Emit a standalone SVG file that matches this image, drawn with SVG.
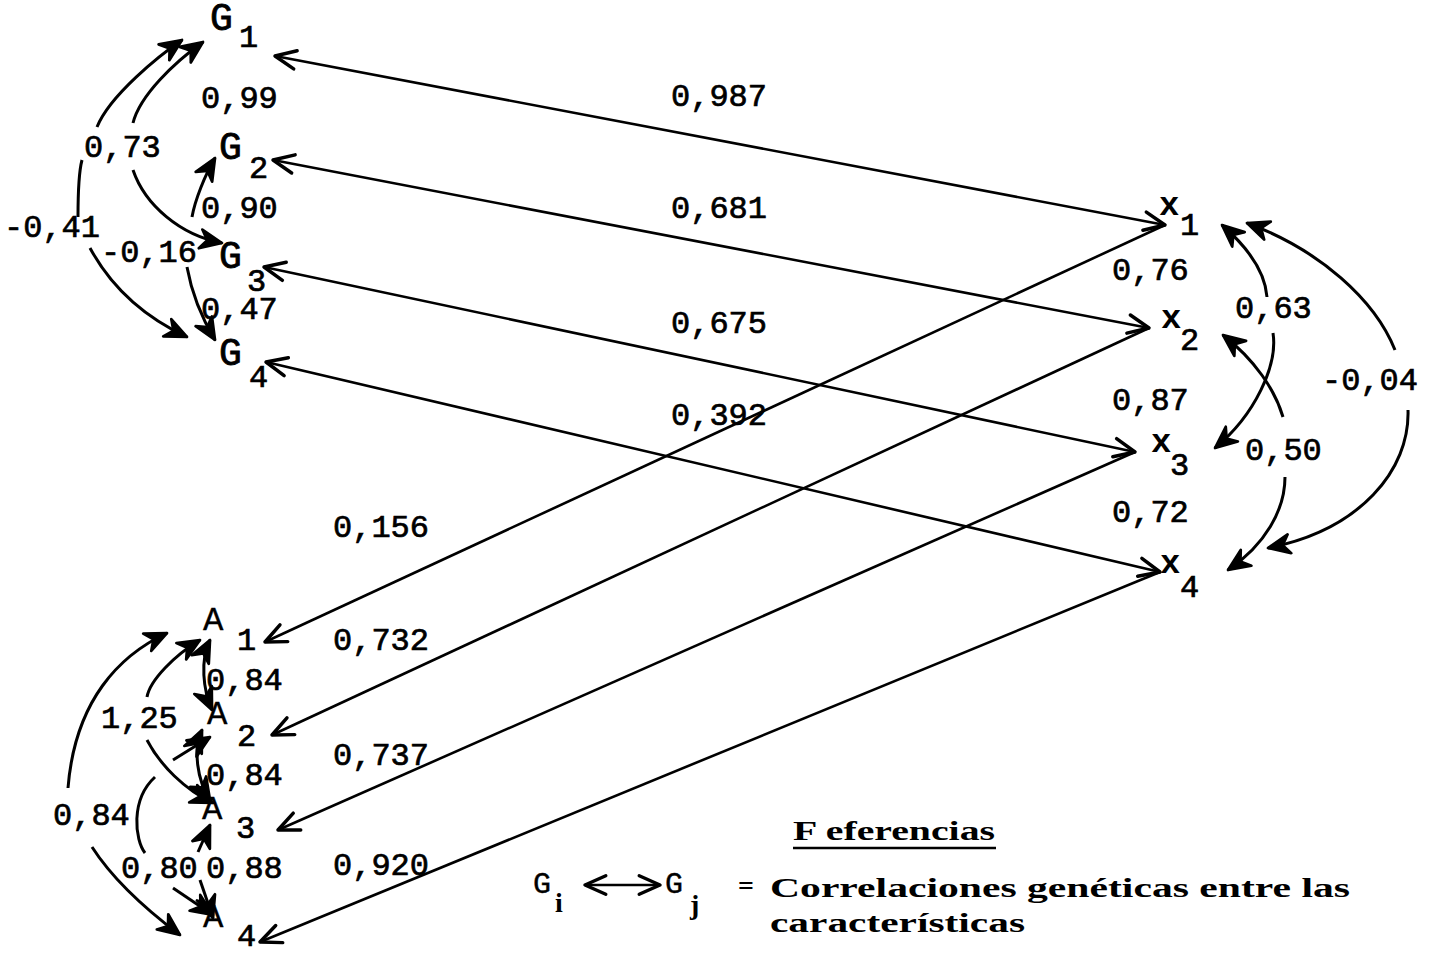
<svg xmlns="http://www.w3.org/2000/svg" width="1436" height="953" viewBox="0 0 1436 953">
<style>
.lbl{font-family:"Liberation Mono",monospace;font-size:32px;fill:#000;stroke:#000;stroke-width:0.7}
.nd{font-family:"Liberation Mono",monospace;font-size:32px;fill:#000;stroke:#000;stroke-width:0.7}
.gg{font-family:"Liberation Mono",monospace;font-size:38px;fill:#000;stroke:#000;stroke-width:0.8}
.ax{font-family:"Liberation Mono",monospace;font-size:34px;fill:#000;stroke:#000;stroke-width:0.3}
.xx{font-family:"Liberation Mono",monospace;font-size:34px;font-weight:bold;fill:#000}
.leg{font-family:"Liberation Serif",serif;font-size:28px;font-weight:bold;fill:#000}
.lg{font-family:"Liberation Mono",monospace;font-size:30px;fill:#000;stroke:#000;stroke-width:0.4}
.ln{fill:none;stroke:#000;stroke-width:2.6}
.arc{fill:none;stroke:#000;stroke-width:3}
</style>
<defs>
<marker id="v" markerUnits="userSpaceOnUse" markerWidth="30" markerHeight="30" refX="0" refY="0" viewBox="-22 -12 26 24" orient="auto-start-reverse">
<path d="M-18,-8 L0,0 L-18,8" fill="none" stroke="#000" stroke-width="3" stroke-linecap="round" stroke-linejoin="round"/>
</marker>
<marker id="f" markerUnits="userSpaceOnUse" markerWidth="30" markerHeight="30" refX="0" refY="0" viewBox="-20 -10 22 20" orient="auto-start-reverse">
<path d="M-16,-7 L0,0 L-16,7 L-11,0 Z" fill="#000" stroke="#000" stroke-width="2" stroke-linejoin="round"/>
</marker>
</defs>
<rect width="1436" height="953" fill="#fff"/>

<g id="connectors">
<line class="ln" x1="275" y1="56" x2="1165" y2="225" marker-start="url(#v)" marker-end="url(#v)"/>
<line class="ln" x1="273" y1="160" x2="1149" y2="328" marker-start="url(#v)" marker-end="url(#v)"/>
<line class="ln" x1="264" y1="267" x2="1135" y2="452" marker-start="url(#v)" marker-end="url(#v)"/>
<line class="ln" x1="266" y1="362" x2="1160" y2="572" marker-start="url(#v)" marker-end="url(#v)"/>
<line class="ln" x1="265" y1="642" x2="1165" y2="225" marker-start="url(#v)"/>
<line class="ln" x1="272" y1="735" x2="1149" y2="328" marker-start="url(#v)"/>
<line class="ln" x1="278" y1="830" x2="1135" y2="452" marker-start="url(#v)"/>
<line class="ln" x1="260" y1="942" x2="1160" y2="572" marker-start="url(#v)"/>

<path class="arc" d="M182,40 C160,55 110,95 97,127" marker-start="url(#f)"/>
<path class="arc" d="M82,160 C78,175 78,200 78,217"/>
<path class="arc" d="M90,248 C110,285 140,315 187,337" marker-end="url(#f)"/>
<path class="arc" d="M203,42 C175,62 140,95 133,123" marker-start="url(#f)"/>
<path class="arc" d="M133,170 C145,205 180,235 222,243" marker-end="url(#f)"/>
<path class="arc" d="M215,158 C205,175 195,200 192,217" marker-start="url(#f)"/>
<path class="arc" d="M187,267 C192,295 203,320 215,340" marker-end="url(#f)"/>

<path class="arc" d="M167,633 C120,655 75,700 68,788" marker-start="url(#f)"/>
<path class="arc" d="M92,847 C110,875 140,905 180,935" marker-end="url(#f)"/>
<path class="arc" d="M200,640 C175,655 150,680 147,697" marker-start="url(#f)"/>
<path class="arc" d="M147,740 C160,765 185,790 213,803" marker-end="url(#f)"/>
<path class="arc" d="M210,737 L173,760" marker-start="url(#f)"/>
<path class="arc" d="M155,777 C130,800 135,840 145,853"/>
<path class="arc" d="M173,888 L213,915" marker-end="url(#f)"/>
<path class="arc" d="M210,640 C200,660 203,690 212,710" marker-start="url(#f)" marker-end="url(#f)"/>
<path class="arc" d="M202,730 C193,750 197,780 210,800" marker-start="url(#f)" marker-end="url(#f)"/>
<path class="arc" d="M198,852 L210,825" marker-end="url(#f)"/>
<path class="arc" d="M200,880 L213,918" marker-end="url(#f)"/>

<path class="arc" d="M1222,225 C1245,245 1265,270 1267,297" marker-start="url(#f)"/>
<path class="arc" d="M1273,333 C1278,365 1255,415 1215,448" marker-end="url(#f)"/>
<path class="arc" d="M1223,335 C1255,360 1275,390 1283,417" marker-start="url(#f)"/>
<path class="arc" d="M1285,477 C1285,510 1265,545 1228,570" marker-end="url(#f)"/>
<path class="arc" d="M1247,223 C1320,250 1375,300 1395,350" marker-start="url(#f)"/>
<path class="arc" d="M1408,410 C1410,470 1360,530 1268,548" marker-end="url(#f)"/>
</g>

<g id="edge-labels">
<text class="lbl" x="201" y="108">0,99</text>
<text class="lbl" x="671" y="106">0,987</text>
<text class="lbl" x="84" y="157">0,73</text>
<text class="lbl" x="201" y="218">0,90</text>
<text class="lbl" x="671" y="218">0,681</text>
<text class="lbl" x="4" y="237">-0,41</text>
<text class="lbl" x="101" y="262">-0,16</text>
<text class="lbl" x="201" y="319">0,47</text>
<text class="lbl" x="671" y="333">0,675</text>
<text class="lbl" x="671" y="425">0,392</text>
<text class="lbl" x="333" y="537">0,156</text>
<text class="lbl" x="333" y="650">0,732</text>
<text class="lbl" x="333" y="765">0,737</text>
<text class="lbl" x="333" y="875">0,920</text>
<text class="lbl" x="1112" y="280">0,76</text>
<text class="lbl" x="1112" y="410">0,87</text>
<text class="lbl" x="1112" y="522">0,72</text>
<text class="lbl" x="1235" y="318">0,63</text>
<text class="lbl" x="1322" y="390">-0,04</text>
<text class="lbl" x="1245" y="460">0,50</text>
<text class="lbl" x="206" y="690">0,84</text>
<text class="lbl" x="101" y="728">1,25</text>
<text class="lbl" x="206" y="785">0,84</text>
<text class="lbl" x="53" y="825">0,84</text>
<text class="lbl" x="121" y="878">0,80</text>
<text class="lbl" x="206" y="878">0,88</text>
</g>

<g id="G1"><text class="gg" x="210" y="30">G</text><text class="nd" x="239" y="47">1</text></g>
<g id="G2"><text class="gg" x="219" y="159">G</text><text class="nd" x="249" y="178">2</text></g>
<g id="G3"><text class="gg" x="219" y="268">G</text><text class="nd" x="247" y="291">3</text></g>
<g id="G4"><text class="gg" x="219" y="365">G</text><text class="nd" x="249" y="387">4</text></g>

<g id="A1"><text class="ax" x="203" y="630">A</text><text class="nd" x="237" y="650">1</text></g>
<g id="A2"><text class="ax" x="207" y="724">A</text><text class="nd" x="237" y="746">2</text></g>
<g id="A3"><text class="ax" x="202" y="819">A</text><text class="nd" x="236" y="838">3</text></g>
<g id="A4"><text class="ax" x="203" y="927">A</text><text class="nd" x="237" y="946">4</text></g>

<g id="X1"><text class="xx" x="1159" y="215">x</text><text class="nd" x="1180" y="235">1</text></g>
<g id="X2"><text class="xx" x="1161" y="328">x</text><text class="nd" x="1180" y="350">2</text></g>
<g id="X3"><text class="xx" x="1151" y="452">x</text><text class="nd" x="1170" y="475">3</text></g>
<g id="X4"><text class="xx" x="1160" y="573">x</text><text class="nd" x="1180" y="597">4</text></g>

<g id="legend">
<text class="leg" x="793" y="840" textLength="202" lengthAdjust="spacingAndGlyphs">F eferencias</text>
<line x1="793" y1="848" x2="996" y2="848" stroke="#000" stroke-width="2.5"/>
<text class="lg" x="533" y="893">G</text>
<text class="leg" x="555" y="912" font-size="20">i</text>
<line x1="585" y1="885" x2="660" y2="885" stroke="#000" stroke-width="2.5" marker-start="url(#v)" marker-end="url(#v)"/>
<text class="lg" x="665" y="893">G</text>
<text class="leg" x="690" y="914" font-size="20">j</text>
<text class="leg" x="738" y="895">=</text>
<text class="leg" x="770" y="897" textLength="580" lengthAdjust="spacingAndGlyphs">Correlaciones genéticas entre las</text>
<text class="leg" x="770" y="932" textLength="255" lengthAdjust="spacingAndGlyphs">características</text>
</g>
</svg>
